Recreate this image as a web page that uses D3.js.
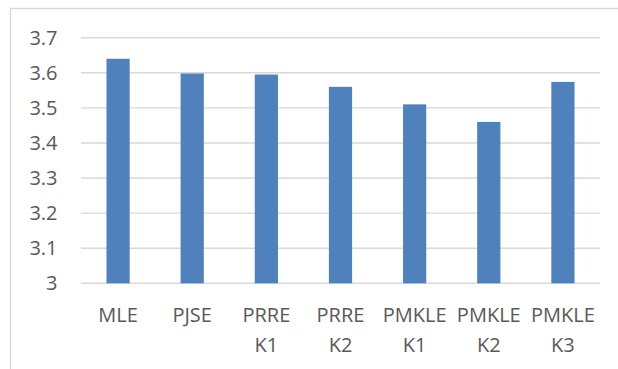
<!DOCTYPE html>
<html>
<head>
<meta charset="utf-8">
<script src="https://cdn.jsdelivr.net/npm/d3@7"></script>
<style>
  html, body { margin: 0; padding: 0; background: #fff; }
  svg { display: block; }
</style>
</head>
<body>
<svg id="chart" width="618" height="369"></svg>
<script>
// Estimator names (two-line labels) and their values
const categories = [
  ["MLE"], ["PJSE"], ["PRRE", "K1"], ["PRRE", "K2"],
  ["PMKLE", "K1"], ["PMKLE", "K2"], ["PMKLE", "K3"]
];
const values = [3.64, 3.598, 3.595, 3.56, 3.51, 3.46, 3.574];
const yTicks = [3, 3.1, 3.2, 3.3, 3.4, 3.5, 3.6, 3.7];

const svg = d3.select("#chart");
const W = 618, H = 369;
const plot = { left: 81, right: 600, top: 37.7, bottom: 283.3 };
const fontFamily = "'Open Sans', sans-serif";
const textColor = "#595959";
const gridColor = "#d9d9d9";

// Chart frame (only top and left edges fall inside the view)
svg.append("path")
  .attr("d", `M10.5,${H} V8.5 H${W}`)
  .attr("fill", "none")
  .attr("stroke", gridColor)
  .attr("stroke-width", 1.3);

const x = d3.scaleBand()
  .domain(d3.range(categories.length))
  .range([plot.left, plot.right])
  .paddingInner(0.687)
  .paddingOuter(0.3435);

const y = d3.scaleLinear()
  .domain([3, 3.7])
  .range([plot.bottom, plot.top]);

// Horizontal gridlines
svg.append("g")
  .selectAll("line")
  .data(yTicks)
  .join("line")
  .attr("x1", plot.left)
  .attr("x2", plot.right)
  .attr("y1", d => y(d))
  .attr("y2", d => y(d))
  .attr("stroke", gridColor)
  .attr("stroke-width", 1.4);

// Bars
svg.append("g")
  .selectAll("rect")
  .data(values)
  .join("rect")
  .attr("x", (d, i) => x(i))
  .attr("width", x.bandwidth())
  .attr("y", d => y(d))
  .attr("height", d => y(3) - y(d))
  .attr("fill", "#4f81bd");

// Y axis labels
const yAxis = d3.axisLeft(y)
  .tickValues(yTicks)
  .tickFormat(d => d3.format("~g")(d))
  .tickSize(0)
  .tickPadding(0);

svg.append("g")
  .attr("transform", `translate(57.5,0)`)
  .call(yAxis)
  .call(g => g.select(".domain").remove())
  .call(g => g.selectAll("text")
    .attr("fill", textColor)
    .attr("font-family", fontFamily)
    .attr("font-size", 20));

// X axis labels (two lines where needed)
const xAxis = svg.append("g");
xAxis.selectAll("text")
  .data(categories)
  .join("text")
  .attr("x", (d, i) => x(i) + x.bandwidth() / 2)
  .attr("y", 321.7)
  .attr("text-anchor", "middle")
  .attr("fill", textColor)
  .attr("font-family", fontFamily)
  .attr("font-size", 20)
  .selectAll("tspan")
  .data(d => d)
  .join("tspan")
  .attr("x", function() { return d3.select(this.parentNode).attr("x"); })
  .attr("dy", (d, i) => i === 0 ? 0 : 30)
  .text(d => d);
</script>
</body>
</html>
